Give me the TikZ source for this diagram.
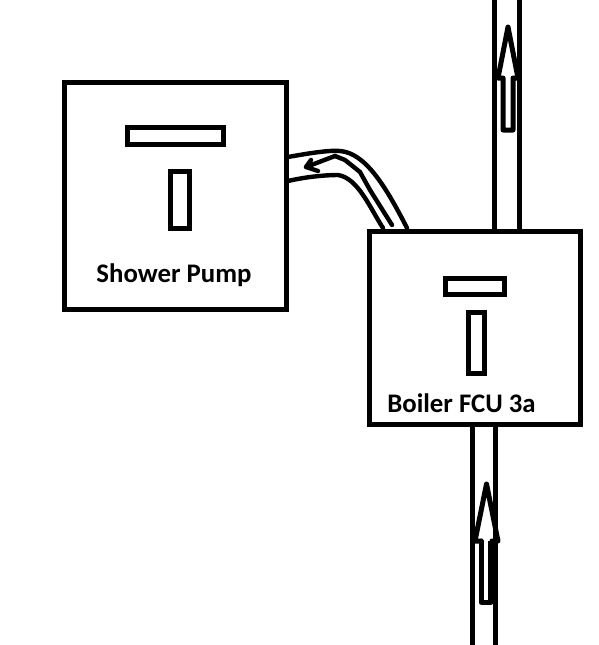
\documentclass[tikz,border=0pt]{standalone}
\usepackage{fontspec}
\setmainfont{Carlito}
\begin{document}
\begin{tikzpicture}[x=1pt,y=-1pt,
  boxline/.style={draw=black,line width=5pt,inner sep=0pt,minimum width=0pt,minimum height=0pt,rectangle},
  pipeline/.style={draw=black,line width=5.4pt},
  arrowline/.style={draw=black,line width=5pt,line join=round,line cap=round},
  hose/.style={draw=black,line width=4.4pt,line cap=round,line join=round},
  lab/.style={inner sep=0pt,font=\fontsize{26.8pt}{28pt}\selectfont\bfseries,text=black}]
\useasboundingbox (0,0) rectangle (599,645);
% main boxes
\node[boxline,minimum width=222pt,minimum height=227pt] (pump) at (175.5,195.5) {};
\node[boxline,minimum width=211pt,minimum height=193pt] (boiler) at (474.5,328) {};
% inner symbols
\node[boxline,minimum width=96pt,minimum height=17pt] (pumpbar) at (175,135.5) {};
\node[boxline,minimum width=19pt,minimum height=57pt] (pumpstem) at (179.5,199.5) {};
\node[boxline,minimum width=59pt,minimum height=16pt] (boilerbar) at (474.5,286) {};
\node[boxline,minimum width=16pt,minimum height=61pt] (boilerstem) at (476,342.5) {};
% labels
\node[lab] (pumplabel) at (174,275) {Shower Pump};
\node[lab] (boilerlabel) at (461.5,403) {Boiler FCU 3a};
% top pipe
\coordinate (topL) at (494.5,0);
\coordinate (topR) at (519.5,0);
\coordinate (topLb) at (494.5,232);
\coordinate (topRb) at (519.5,232);
\draw[pipeline] (topL) -- (topLb);
\draw[pipeline] (topR) -- (topRb);
% top arrow
\coordinate (ta1) at (508,27);
\coordinate (ta2) at (498,78);
\coordinate (ta3) at (518,78);
\draw[arrowline] (503,78) -- (ta2) -- (ta1) -- (ta3) -- (513,78) -- (513,130) -- (503,130) -- cycle;
% bottom pipe
\coordinate (botL) at (472.5,425);
\coordinate (botR) at (495.5,425);
\coordinate (botLb) at (472.5,645);
\coordinate (botRb) at (495.5,645);
\draw[pipeline] (botL) -- (botLb);
\draw[pipeline] (botR) -- (botRb);
% bottom arrow
\coordinate (ba1) at (486.5,484);
\coordinate (ba2) at (475,541);
\coordinate (ba3) at (498,541);
\draw[arrowline] (481,541) -- (ba2) -- (ba1) -- (ba3) -- (492,541);
\draw[arrowline] (481,541) -- (481,602) -- (491,602);
\draw[draw=black,line width=6pt] (491,541) -- (491,604);
% hose
\coordinate (h1) at (288,157);
\coordinate (h2) at (407,228);
\coordinate (h3) at (288,181);
\coordinate (h4) at (383,228);
\coordinate (h5) at (335,156);
\coordinate (h6) at (392,225);
\coordinate (h7) at (306,167);
\draw[hose] (h1) .. controls (310,153) and (330,150) .. (340,151) .. controls (365,153) and (385,185) .. (h2);
\draw[hose] (h3) .. controls (305,177) and (325,175) .. (338,175) .. controls (358,178) and (370,208) .. (h4);
\draw[hose] (h5) -- (345,160) -- (360,172) -- (370,190) -- (h6);
\draw[hose] (h5) -- (h7) -- (318,171);
\draw[hose] (h7) -- (311,160);
\end{tikzpicture}
\end{document}
